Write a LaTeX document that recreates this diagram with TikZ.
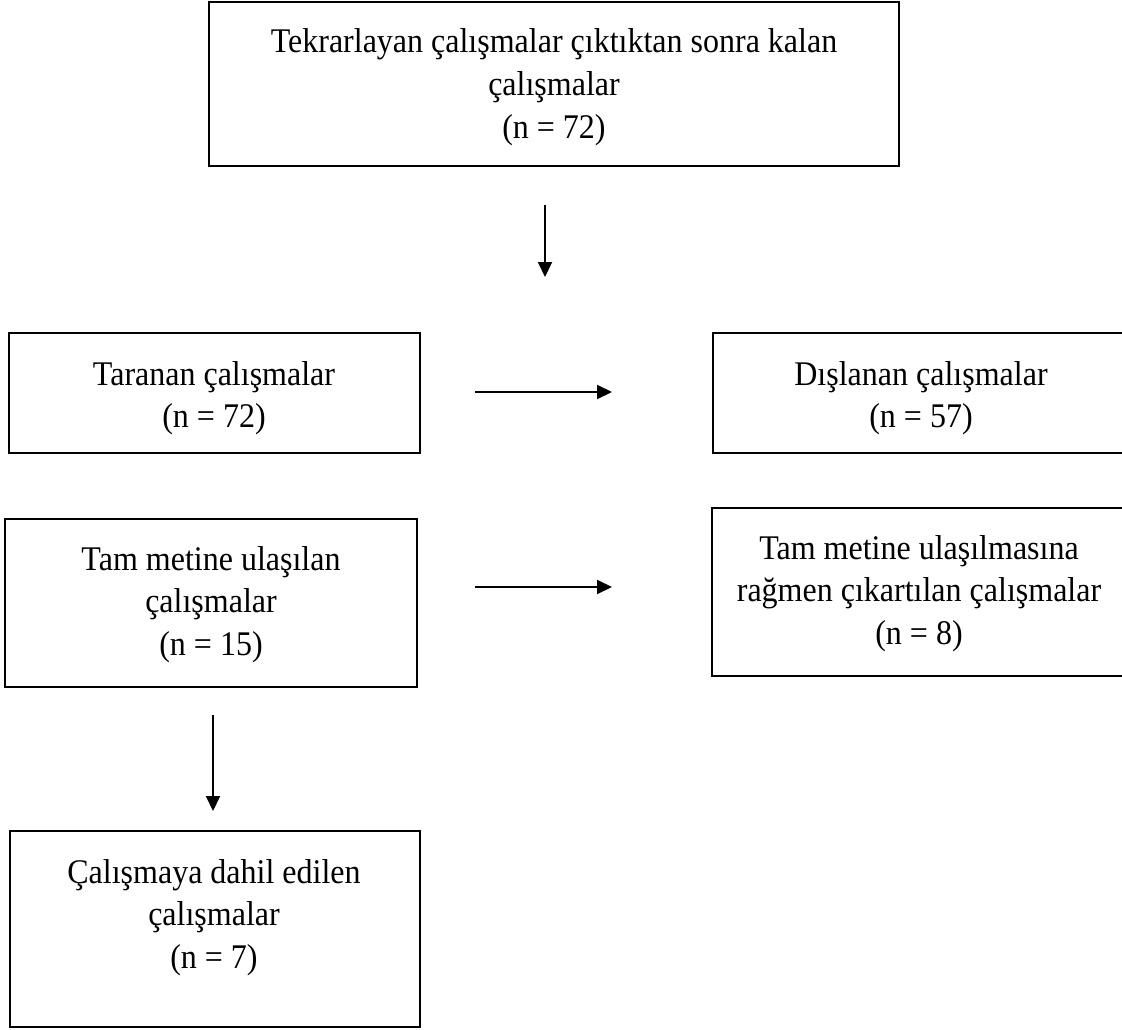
\documentclass[tikz,border=0pt]{standalone}
\usepackage{fontspec}
\usepackage{graphicx}
\setmainfont{Liberation Serif}
\usetikzlibrary{arrows.meta}
\newcommand{\boxtext}[1]{\scalebox{1}[1.08]{\fontsize{32}{39.8}\selectfont\begin{tabular}[t]{@{}c@{}}#1\end{tabular}}}
\begin{document}
\begin{tikzpicture}[x=1pt,y=-1pt,
  box/.style={draw=black, line width=1.8pt, inner sep=0pt},
  txt/.style={align=center, inner sep=0pt, anchor=base},
  arr/.style={line width=2pt, -{Triangle[length=15pt,width=14pt]}}]
\useasboundingbox (0,0) rectangle (1122,1030);
\fill[white] (0,0) rectangle (1122,1030);
% boxes
\draw[box] (209,2) rectangle (899,166);
\draw[box] (9,333) rectangle (420,453);
\draw[box] (1124,333) -- (713,333) -- (713,453) -- (1124,453);
\draw[box] (5,519) rectangle (417,687);
\draw[box] (1124,508) -- (712,508) -- (712,676) -- (1124,676);
\draw[box] (10,831) rectangle (420,1027);
% texts
\node[txt] (t1) at (554,53) {\boxtext{Tekrarlayan çalışmalar çıktıktan sonra kalan\\çalışmalar\\(n = 72)}};
\node[txt] (t2) at (214,385) {\boxtext{Taranan çalışmalar\\(n = 72)}};
\node[txt] (t3) at (921,385) {\boxtext{Dışlanan çalışmalar\\(n = 57)}};
\node[txt] (t4) at (211,570) {\boxtext{Tam metine ulaşılan\\çalışmalar\\(n = 15)}};
\node[txt] (t5) at (919,559) {\boxtext{Tam metine ulaşılmasına\\rağmen çıkartılan çalışmalar\\(n = 8)}};
\node[txt] (t6) at (214,883) {\boxtext{Çalışmaya dahil edilen\\çalışmalar\\(n = 7)}};
% arrows
\coordinate (a1s) at (545,205); \coordinate (a1e) at (545,277);
\coordinate (a2s) at (475,392); \coordinate (a2e) at (612,392);
\coordinate (a3s) at (475,587); \coordinate (a3e) at (612,587);
\coordinate (a4s) at (213,715); \coordinate (a4e) at (213,811);
\draw[arr] (a1s) -- (a1e);
\draw[arr] (a2s) -- (a2e);
\draw[arr] (a3s) -- (a3e);
\draw[arr] (a4s) -- (a4e);
\end{tikzpicture}
\end{document}
